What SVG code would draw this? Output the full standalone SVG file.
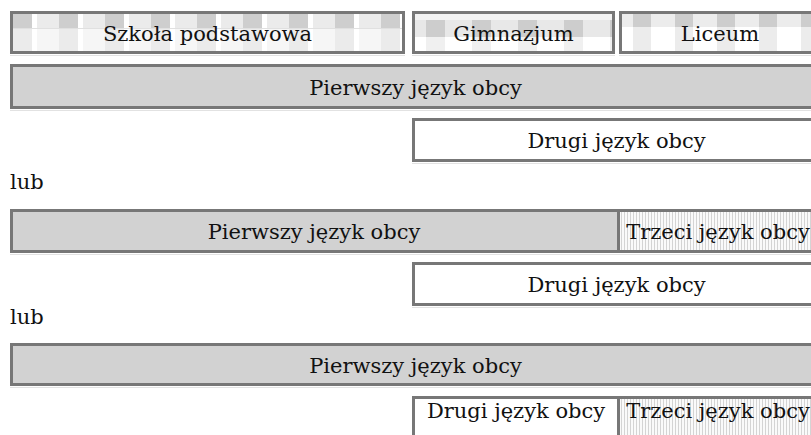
<svg xmlns="http://www.w3.org/2000/svg" width="811" height="435" viewBox="0 0 811 435">
<style>
  .box{stroke:#777;stroke-width:3}
  .grey{fill:#d2d2d2}
  .white{fill:#fff}
  .t{font-family:"DejaVu Serif","Liberation Serif",serif;font-size:21px;fill:#111;text-anchor:middle}
  .lub{font-family:"DejaVu Serif","Liberation Serif",serif;font-size:21px;fill:#111}
  .sh{stroke:#e2e2e2;stroke-width:1}
</style>
<defs>
  <pattern id="pSzk" patternUnits="userSpaceOnUse" x="13" y="13" width="46" height="40">
    <rect width="46" height="40" fill="#fff"/>
    <rect x="0" y="0" width="19" height="15" fill="#cecece"/>
    <rect x="0" y="15" width="19" height="25" fill="#ebebeb"/>
    <rect x="24" y="0" width="22" height="15" fill="#ebebeb"/>
    <rect x="24" y="15" width="22" height="25" fill="#f6f6f6"/>
    <rect x="0" y="15" width="46" height="1" fill="#e0e0e0"/>
  </pattern>
  <pattern id="pGim" patternUnits="userSpaceOnUse" x="426" y="13" width="46" height="40">
    <rect width="46" height="40" fill="#fff"/>
    <rect x="0" y="0" width="46" height="7" fill="#f2f2f2"/>
    <rect x="0" y="7" width="19" height="17" fill="#cdcdcd"/>
    <rect x="19" y="7" width="27" height="17" fill="#e8e8e8"/>
    <rect x="0" y="24" width="19" height="16" fill="#f0f0f0"/>
  </pattern>
  <pattern id="pLic" patternUnits="userSpaceOnUse" x="633" y="13" width="42" height="40">
    <rect width="42" height="40" fill="#fff"/>
    <rect x="0" y="0" width="18" height="14" fill="#cdcdcd"/>
    <rect x="18" y="0" width="24" height="14" fill="#ececec"/>
    <rect x="0" y="14" width="18" height="26" fill="#ececec"/>
  </pattern>
  <pattern id="pStripe" patternUnits="userSpaceOnUse" x="0" y="0" width="3" height="10">
    <rect width="3" height="10" fill="#fafafa"/>
    <rect x="0" y="0" width="1" height="10" fill="#d4d4d4"/>
  </pattern>
</defs>

<g id="szkola-podstawowa">
  <rect class="box" x="11.5" y="12.5" width="392" height="40" fill="url(#pSzk)"/>
  <line class="sh" x1="10" y1="55.5" x2="405" y2="55.5"/>
  <text class="t" x="207.5" y="41">Szkoła podstawowa</text>
</g>
<g id="gimnazjum">
  <rect class="box" x="413.5" y="12.5" width="200" height="40" fill="url(#pGim)"/>
  <line class="sh" x1="412" y1="55.5" x2="615" y2="55.5"/>
  <text class="t" x="513.5" y="41">Gimnazjum</text>
</g>
<g id="liceum">
  <rect class="box" x="620.5" y="12.5" width="199" height="40" fill="url(#pLic)"/>
  <line class="sh" x1="619" y1="55.5" x2="811" y2="55.5"/>
  <text class="t" x="720" y="41">Liceum</text>
</g>

<g id="pierwszy-1">
  <rect class="box grey" x="11.5" y="65.5" width="808" height="42"/>
  <line class="sh" x1="10" y1="110.5" x2="811" y2="110.5"/>
  <text class="t" x="415.5" y="95">Pierwszy język obcy</text>
</g>
<g id="drugi-1">
  <rect class="box white" x="413.5" y="119.5" width="406" height="41"/>
  <line class="sh" x1="412" y1="163.5" x2="811" y2="163.5"/>
  <text class="t" x="616.5" y="148">Drugi język obcy</text>
</g>

<text id="lub-1" class="lub" x="10" y="189">lub</text>

<g id="pierwszy-2">
  <rect class="box grey" x="11.5" y="210.5" width="607" height="41"/>
  <line class="sh" x1="10" y1="254.5" x2="620" y2="254.5"/>
  <text class="t" x="314" y="239">Pierwszy język obcy</text>
</g>
<g id="trzeci-2">
  <rect class="box" x="618.5" y="210.5" width="201" height="41" fill="url(#pStripe)"/>
  <line class="sh" x1="617" y1="254.5" x2="811" y2="254.5"/>
  <text class="t" x="718" y="239">Trzeci język obcy</text>
</g>
<g id="drugi-2">
  <rect class="box white" x="413.5" y="263.5" width="406" height="41"/>
  <line class="sh" x1="412" y1="307.5" x2="811" y2="307.5"/>
  <text class="t" x="616.5" y="292">Drugi język obcy</text>
</g>

<text id="lub-2" class="lub" x="10" y="324">lub</text>

<g id="pierwszy-3">
  <rect class="box grey" x="11.5" y="344.5" width="808" height="40"/>
  <line class="sh" x1="10" y1="387.5" x2="811" y2="387.5"/>
  <text class="t" x="415.5" y="373">Pierwszy język obcy</text>
</g>
<g id="drugi-3">
  <rect class="box white" x="413.5" y="397.5" width="205" height="41"/>
  <text class="t" x="516" y="418">Drugi język obcy</text>
</g>
<g id="trzeci-3">
  <rect class="box" x="618.5" y="397.5" width="201" height="41" fill="url(#pStripe)"/>
  <text class="t" x="718" y="418">Trzeci język obcy</text>
</g>

<g id="connectors"/>
</svg>
